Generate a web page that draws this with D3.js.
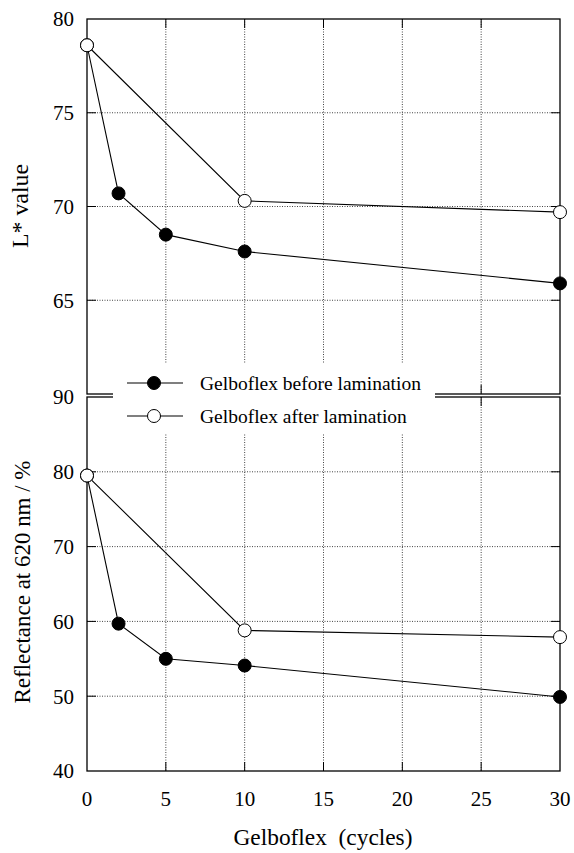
<!DOCTYPE html>
<html><head><meta charset="utf-8">
<script src="https://cdn.jsdelivr.net/npm/d3@7"></script>
<style>
html,body{margin:0;padding:0;background:#fff;}
</style></head>
<body><svg id="c" width="574" height="853"></svg>
<script>
// ---- data ----
const cyclesBefore = [0, 2, 5, 10, 30];
const cyclesAfter = [0, 10, 30];
const lBefore = [78.6, 70.7, 68.5, 67.6, 65.9];
const lAfter = [78.6, 70.3, 69.7];
const rBefore = [79.5, 59.7, 55.0, 54.1, 49.9];
const rAfter = [79.5, 58.8, 57.9];
const xTicks = [0, 5, 10, 15, 20, 25, 30];
const lTicks = [80, 75, 70, 65];
const lGrid = [75, 70, 65];
const rTicks = [90, 80, 70, 60, 50, 40];
const rGrid = [80, 70, 60, 50];
const seriesNames = ["Gelboflex before lamination", "Gelboflex after lamination"];
const xTitle = "Gelboflex  (cycles)";
const lTitle = "L* value";
const rTitle = "Reflectance at 620 nm / %";

const svg = d3.select("#c");
const FONT = '"Liberation Serif"';
const X0 = 87, X1 = 560;
const x = d3.scaleLinear().domain([0, 30]).range([X0, X1]);
const yTop = d3.scaleLinear().domain([60, 80]).range([394, 19]);
const yBot = d3.scaleLinear().domain([40, 90]).range([771, 397]);

// fit a text element's font size so that it spans a target width
function fit(sel, target) {
  sel.style("font-size", "100px");
  const w = sel.node().getComputedTextLength();
  sel.style("font-size", (100 * target / w).toFixed(2) + "px");
  return sel;
}

function panel(y, grid, ticksLabeled) {
  const g = svg.append("g");
  const [yb, yt] = y.range();
  g.selectAll(".gv").data(xTicks.slice(1, -1)).join("line")
    .attr("x1", d => x(d)).attr("x2", d => x(d)).attr("y1", yt).attr("y2", yb)
    .attr("stroke", "#444").attr("stroke-width", 1).attr("stroke-dasharray", "1,1.5");
  g.selectAll(".gh").data(grid).join("line")
    .attr("x1", X0).attr("x2", X1).attr("y1", d => y(d)).attr("y2", d => y(d))
    .attr("stroke", "#444").attr("stroke-width", 1).attr("stroke-dasharray", "1,1.5");
  const tl = 9;
  g.selectAll(".tb").data(xTicks.slice(1, -1)).join("line")
    .attr("x1", d => x(d)).attr("x2", d => x(d)).attr("y1", yb).attr("y2", yb - tl)
    .attr("stroke", "#000").attr("stroke-width", 1);
  g.selectAll(".tt").data(xTicks.slice(1, -1)).join("line")
    .attr("x1", d => x(d)).attr("x2", d => x(d)).attr("y1", yt).attr("y2", yt + tl)
    .attr("stroke", "#000").attr("stroke-width", 1);
  g.selectAll(".tlf").data(grid).join("line")
    .attr("x1", X0).attr("x2", X0 + tl).attr("y1", d => y(d)).attr("y2", d => y(d))
    .attr("stroke", "#000").attr("stroke-width", 1);
  g.selectAll(".trt").data(grid).join("line")
    .attr("x1", X1).attr("x2", X1 - tl).attr("y1", d => y(d)).attr("y2", d => y(d))
    .attr("stroke", "#000").attr("stroke-width", 1);
  g.append("rect").attr("x", X0).attr("y", yt).attr("width", X1 - X0).attr("height", yb - yt)
    .attr("fill", "none").attr("stroke", "#000").attr("stroke-width", 1.3);
  g.selectAll(".yl").data(ticksLabeled).join("text")
    .attr("x", 74).attr("y", d => y(d)).attr("dy", "0.35em")
    .style("font-family", FONT).style("font-size", "21px")
    .attr("text-anchor", "end").text(d => d);
  return g;
}

panel(yTop, lGrid, lTicks);
panel(yBot, rGrid, rTicks);

svg.append("rect").attr("x", 113).attr("y", 363).attr("width", 322).attr("height", 71).attr("fill", "#fff");

function series(g, y, xs, ys, filled) {
  const line = d3.line().x((d, i) => x(xs[i])).y(d => y(d));
  g.append("path").datum(ys).attr("d", line).attr("fill", "none")
    .attr("stroke", "#000").attr("stroke-width", 1.1);
  g.selectAll(null).data(ys).join("circle")
    .attr("cx", (d, i) => x(xs[i])).attr("cy", d => y(d)).attr("r", 6.5)
    .attr("fill", filled ? "#000" : "#fff").attr("stroke", "#000").attr("stroke-width", 1);
}
const sTop = svg.append("g"), sBot = svg.append("g");
series(sTop, yTop, cyclesBefore, lBefore, true);
series(sTop, yTop, cyclesAfter, lAfter, false);
series(sBot, yBot, cyclesBefore, rBefore, true);
series(sBot, yBot, cyclesAfter, rAfter, false);

svg.selectAll(".xl").data(xTicks).join("text")
  .attr("x", d => x(d)).attr("y", 806).attr("text-anchor", "middle")
  .style("font-family", FONT).style("font-size", "21px").text(d => d);

fit(svg.append("text").attr("x", 323).attr("y", 845).attr("text-anchor", "middle")
  .style("font-family", FONT).style("white-space", "pre").text(xTitle), 179);
fit(svg.append("text").attr("transform", "translate(28,206) rotate(-90)")
  .style("font-family", FONT).attr("text-anchor", "middle").text(lTitle), 84);
fit(svg.append("text").attr("transform", "translate(30,582) rotate(-90)")
  .style("font-family", FONT).attr("text-anchor", "middle").text(rTitle), 243);

const leg = svg.append("g");
const legY = [383, 416];
seriesNames.forEach((name, i) => {
  leg.append("line").attr("x1", 127).attr("x2", 183).attr("y1", legY[i]).attr("y2", legY[i])
    .attr("stroke", "#000").attr("stroke-width", 1.1);
  leg.append("circle").attr("cx", 154).attr("cy", legY[i]).attr("r", 6.5)
    .attr("fill", i === 0 ? "#000" : "#fff").attr("stroke", "#000");
  leg.append("text").attr("x", 200).attr("y", legY[i] + 7)
    .style("font-family", FONT).style("font-size", "19.5px").text(name);
});
</script></body></html>
